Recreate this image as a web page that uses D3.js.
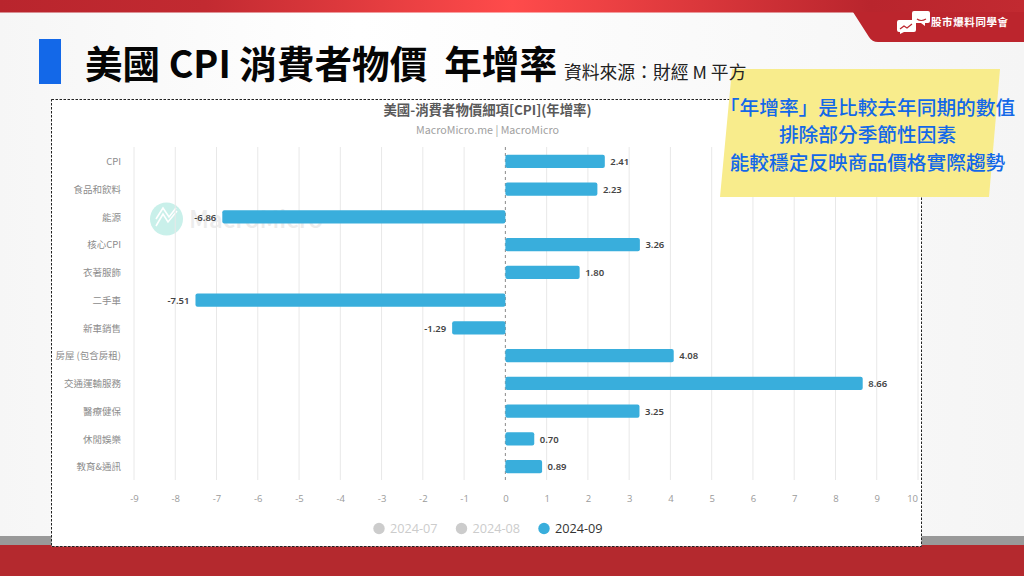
<!DOCTYPE html>
<html>
<head>
<meta charset="utf-8">
<script src="https://cdn.jsdelivr.net/npm/d3@7"></script>
<style>
html, body { margin: 0; padding: 0; background: #fff; overflow: hidden; }
svg { display: block; }
text { font-family: "Noto Sans CJK TC", "Noto Sans", sans-serif; }
</style>
</head>
<body>
<svg id="slide" width="1024" height="576"></svg>
<script>
var categories = ["CPI", "食品和飲料", "能源", "核心CPI", "衣著服飾", "二手車", "新車銷售", "房屋 (包含房租)", "交通運輸服務", "醫療健保", "休閒娛樂", "教育&通訊"];
var values = [2.41, 2.23, -6.86, 3.26, 1.80, -7.51, -1.29, 4.08, 8.66, 3.25, 0.70, 0.89];
var xTicks = [-9, -8, -7, -6, -5, -4, -3, -2, -1, 0, 1, 2, 3, 4, 5, 6, 7, 8, 9, 10];
var legendLabels = ["2024-07", "2024-08", "2024-09"];
var noteLines = ["「年增率」是比較去年同期的數值", "排除部分季節性因素", "能較穩定反映商品價格實際趨勢"];

var svg = d3.select("#slide");
var defs = svg.append("defs");

// slide background and frame
var bg = defs.append("linearGradient").attr("id", "bg-grad").attr("x1", 0).attr("y1", 0).attr("x2", 1).attr("y2", 0);
bg.append("stop").attr("offset", "0%").attr("stop-color", "#f6f6f6");
bg.append("stop").attr("offset", "35%").attr("stop-color", "#ffffff");
bg.append("stop").attr("offset", "100%").attr("stop-color", "#f5f5f5");

var topGrad = defs.append("linearGradient").attr("id", "top-grad").attr("x1", 0).attr("y1", 0).attr("x2", 1).attr("y2", 0);
topGrad.append("stop").attr("offset", "0%").attr("stop-color", "#b9252d");
topGrad.append("stop").attr("offset", "20%").attr("stop-color", "#c22a31");
topGrad.append("stop").attr("offset", "50%").attr("stop-color", "#ff4b4b");
topGrad.append("stop").attr("offset", "85%").attr("stop-color", "#b9252d");
topGrad.append("stop").attr("offset", "100%").attr("stop-color", "#c22a31");

svg.append("rect").attr("width", 1024).attr("height", 576).attr("fill", "url(#bg-grad)");
svg.append("rect").attr("width", 1024).attr("height", 12.5).attr("fill", "url(#top-grad)");
svg.append("path").attr("d", "M853,12 L869,37 Q872,42 878,42 L1024,42 L1024,12 Z").attr("fill", "#bc252d");
svg.append("rect").attr("y", 536).attr("width", 1024).attr("height", 9).attr("fill", "#999999");
svg.append("rect").attr("y", 545).attr("width", 1024).attr("height", 31).attr("fill", "#b4292e");

// logo
var logo = svg.append("g").attr("fill", "#ffffff");
logo.append("path").attr("d", "M899,20 h15 a2,2 0 0 1 2,2 v8 a2,2 0 0 1 -2,2 h-10 l-4,2 v-2 h-1 a2,2 0 0 1 -2,-2 v-8 a2,2 0 0 1 2,-2 Z");
logo.append("path").attr("d", "M914,11 h14 a2,2 0 0 1 2,2 v8 a2,2 0 0 1 -2,2 h-3 v3 l-4,-3 h-7 a2,2 0 0 1 -2,-2 v-8 a2,2 0 0 1 2,-2 Z");
logo.append("path").attr("d", "M900,29 l4,-3 l3,2 l5,-4").attr("fill", "none").attr("stroke", "#bc252d").attr("stroke-width", 1.2);
logo.append("path").attr("d", "M917,19 q4,3 9,0").attr("fill", "none").attr("stroke", "#bc252d").attr("stroke-width", 1.2);
svg.append("text").attr("x", 931).attr("y", 26).attr("font-size", 10.5).attr("font-weight", 700)
    .attr("letter-spacing", 0.6).attr("fill", "#ffffff").text("股市爆料同學會");

// heading
svg.append("rect").attr("x", 39).attr("y", 39).attr("width", 22).attr("height", 45).attr("fill", "#1368e8");
svg.append("text").attr("x", 85).attr("y", 78).attr("font-size", 37.6).attr("font-weight", 700)
    .attr("fill", "#050505").attr("xml:space", "preserve").style("white-space", "pre").text("美國 CPI 消費者物價  年增率");

// chart card
svg.append("rect").attr("x", 51.5).attr("y", 99.5).attr("width", 870).attr("height", 447)
    .attr("fill", "#ffffff").attr("stroke", "#222222").attr("stroke-width", 1).attr("stroke-dasharray", "2.5,1.5");

svg.append("text").attr("x", 487.5).attr("y", 115).attr("text-anchor", "middle").attr("font-size", 13.4).attr("font-weight", 700)
    .attr("fill", "#595959").text("美國-消費者物價細項[CPI](年增率)");
svg.append("text").attr("x", 487.5).attr("y", 134).attr("text-anchor", "middle").attr("font-size", 10.7)
    .attr("fill", "#a0a0a0").text("MacroMicro.me | MacroMicro");

// scales
var x = d3.scaleLinear().domain([-9, 10]).range([134, 918]);
var y = d3.scaleBand().domain(categories).range([147.5, 480.5]).paddingInner(0.53).paddingOuter(0.265);
var plotBottom = 480;

// watermark
var wm = svg.append("g");
wm.append("circle").attr("cx", 166.5).attr("cy", 219).attr("r", 16.5).attr("fill", "#c9f0ea");
wm.append("path").attr("d", "M156,226 L163,214 L168,222 L177,211 M156,219 L163,208 L169,217 L176,208")
    .attr("fill", "none").attr("stroke", "#ffffff").attr("stroke-width", 1.6);
wm.append("text").attr("x", 189).attr("y", 228).attr("font-size", 24).attr("font-weight", 500)
    .attr("fill", "#ececec").text("MacroMicro");

// grid lines
svg.append("g").selectAll("line").data(xTicks.filter(function (d) { return d !== 0; })).enter().append("line")
    .attr("x1", function (d) { return x(d); }).attr("x2", function (d) { return x(d); })
    .attr("y1", 147).attr("y2", plotBottom)
    .attr("stroke", "#e8e8e8").attr("stroke-width", 1);

// zero line
svg.append("line").attr("x1", x(0)).attr("x2", x(0)).attr("y1", 147).attr("y2", plotBottom)
    .attr("stroke", "#8a8a8a").attr("stroke-width", 1).attr("stroke-dasharray", "3,3");

// x axis
var xAxis = svg.append("g").attr("transform", "translate(0," + 495 + ")")
    .call(d3.axisBottom(x).tickValues(xTicks).tickSize(0).tickPadding(0).tickFormat(function (d) { return String(d); }));
xAxis.select(".domain").remove();
xAxis.selectAll("text").attr("font-size", 9.5).attr("fill", "#9a9a9a").attr("dy", "0.71em")
    .style("font-family", "'Open Sans', sans-serif")
    .attr("text-anchor", function (d) { return d === 10 ? "end" : "middle"; })
    .attr("dx", function (d) { return d === 10 ? -0.5 : 0; });

// y axis
var yAxis = svg.append("g").attr("transform", "translate(121,0)")
    .call(d3.axisLeft(y).tickSize(0).tickPadding(0));
yAxis.select(".domain").remove();
yAxis.selectAll("text").attr("font-size", 9.5).attr("fill", "#8c8c8c").attr("dy", "0.4em")
    .style("font-family", "'Noto Sans CJK TC', sans-serif");

// bars
svg.append("g").selectAll("rect").data(values).enter().append("rect")
    .attr("x", function (d) { return Math.min(x(0), x(d)); })
    .attr("y", function (d, i) { return y(categories[i]); })
    .attr("width", function (d) { return Math.abs(x(d) - x(0)); })
    .attr("height", y.bandwidth())
    .attr("rx", 2)
    .attr("fill", "#39aedc");

// value labels
svg.append("g").selectAll("text").data(values).enter().append("text")
    .attr("x", function (d) { return d < 0 ? x(d) - 6 : x(d) + 5.5; })
    .attr("y", function (d, i) { return y(categories[i]) + y.bandwidth() / 2 + 0.5; })
    .attr("dy", "0.35em")
    .attr("text-anchor", function (d) { return d < 0 ? "end" : "start"; })
    .attr("font-size", 9.5).attr("font-weight", 600).attr("fill", "#444444")
    .style("font-family", "'Noto Sans', sans-serif")
    .text(function (d) { return d.toFixed(2); });

// legend
var legendX = d3.scalePoint().domain(legendLabels).range([379, 544]);
var legend = svg.append("g").selectAll("g").data(legendLabels).enter().append("g")
    .attr("transform", function (d) { return "translate(" + legendX(d) + ",528.5)"; });
legend.append("circle").attr("r", 5.7).attr("fill", function (d, i) { return i === 2 ? "#39aedc" : "#cccccc"; });
legend.append("text").attr("x", 11).attr("dy", "0.35em").attr("font-size", 12.7)
    .style("font-family", "'Open Sans', sans-serif")
    .attr("fill", function (d, i) { return i === 2 ? "#333333" : "#cccccc"; })
    .text(function (d) { return d; });

// yellow note
svg.append("path").attr("d", "M732,69 L1000,69 L989,197 L720,197 Z").attr("fill", "#f8ec8c");
svg.append("g").selectAll("text").data(noteLines).enter().append("text")
    .attr("x", 867.5).attr("y", function (d, i) { return 114.5 + i * 27.5; })
    .attr("text-anchor", "middle").attr("font-size", 19.7).attr("font-weight", 500)
    .attr("fill", "#1368e8").text(function (d) { return d; });

// source sits on top of the note
svg.append("text").attr("x", 564).attr("y", 79).attr("font-size", 17.8).attr("fill", "#222222").text("資料來源：財經 M 平方");
</script>
</body>
</html>
